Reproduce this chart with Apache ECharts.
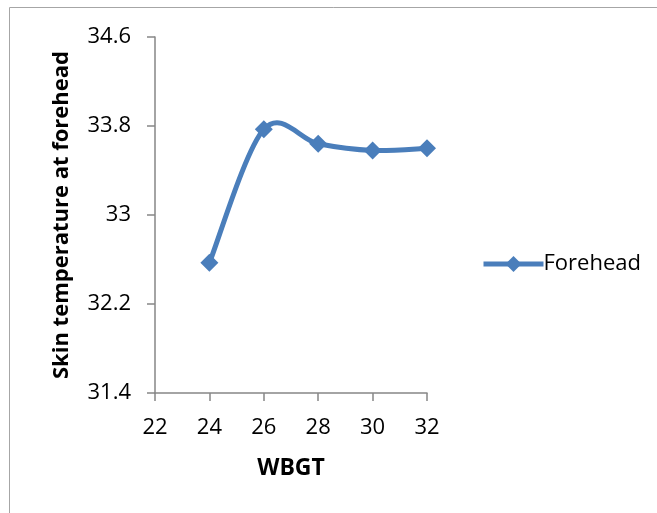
<!DOCTYPE html>
<html>
<head>
<meta charset="utf-8">
<script src="https://cdn.jsdelivr.net/npm/echarts@6/dist/echarts.min.js"></script>
<style>
  html, body { margin: 0; padding: 0; background: #fff; }
  #chart { width: 657px; height: 513px; }
</style>
</head>
<body>
<div id="chart"></div>
<script>
// WBGT levels and mean forehead skin temperature
const wbgt = [24, 26, 28, 30, 32];
const forehead = [32.57, 33.77, 33.64, 33.58, 33.6];
const seriesName = 'Forehead';
const xTitle = 'WBGT';
const yTitle = 'Skin temperature at forehead';

const FONT = '"Open Sans", "Liberation Sans", sans-serif';
const AXIS_GRAY = '#868686';
const BLUE = '#4A7EBB';

const points = wbgt.map((x, i) => [x, forehead[i]]);

// Smoothed connecting curve (Catmull-Rom style cubic Bezier through every point),
// computed in pixel space from the axis scales.
function renderCurve(params, api) {
  if (params.dataIndex !== 0) return null;
  const px = points.map(p => api.coord(p));
  const n = px.length;
  const at = i => px[Math.max(0, Math.min(n - 1, i))];
  let d = 'M' + px[0][0] + ' ' + px[0][1];
  for (let i = 0; i < n - 1; i++) {
    const p0 = at(i - 1), p1 = at(i), p2 = at(i + 1), p3 = at(i + 2);
    const c1 = [p1[0] + (p2[0] - p0[0]) / 6, p1[1] + (p2[1] - p0[1]) / 6];
    const c2 = [p2[0] - (p3[0] - p1[0]) / 6, p2[1] - (p3[1] - p1[1]) / 6];
    d += ' C' + c1.join(' ') + ' ' + c2.join(' ') + ' ' + p2.join(' ');
  }
  return {
    type: 'path',
    shape: { pathData: d },
    style: { fill: 'none', stroke: BLUE, lineWidth: 5, lineCap: 'round', lineJoin: 'round' }
  };
}

const chart = echarts.init(document.getElementById('chart'), null, { renderer: 'canvas' });

chart.setOption({
  backgroundColor: '#ffffff',
  animation: false,
  graphic: [{
    type: 'rect',
    shape: { x: 9.5, y: 7.5, width: 700, height: 600 },
    style: { fill: 'none', stroke: '#A6A6A6', lineWidth: 1 },
    silent: true,
    z: -1
  }],
  grid: { left: 155, right: 230, top: 37, bottom: 120 },
  legend: {
    data: [{
      name: seriesName,
      lineStyle: { color: BLUE, width: 5, opacity: 1, cap: 'butt' },
      itemStyle: { color: BLUE }
    }],
    orient: 'vertical',
    left: 476,
    top: 248,
    itemWidth: 60,
    itemHeight: 20,
    itemGap: 0,
    textStyle: { fontFamily: FONT, fontSize: 22, color: '#000', padding: [0, 0, 0, -5] }
  },
  xAxis: {
    type: 'value',
    min: 22, max: 32, interval: 2,
    name: xTitle,
    nameLocation: 'middle',
    nameGap: 64,
    nameTextStyle: { fontFamily: FONT, fontSize: 23, fontWeight: 'bold', color: '#000' },
    axisLine: { show: true, onZero: false, lineStyle: { color: AXIS_GRAY, width: 1.5 } },
    axisTick: { show: true, inside: false, length: 8, lineStyle: { color: AXIS_GRAY, width: 1.5 } },
    axisLabel: { fontFamily: FONT, fontSize: 22, color: '#000', margin: 24 },
    splitLine: { show: false }
  },
  yAxis: {
    type: 'value',
    min: 31.4, max: 34.6, interval: 0.8,
    name: yTitle,
    nameLocation: 'middle',
    nameGap: 82,
    nameRotate: 90,
    nameTextStyle: { fontFamily: FONT, fontSize: 22, fontWeight: 'bold', color: '#000' },
    axisLine: { show: true, lineStyle: { color: AXIS_GRAY, width: 1.5 } },
    axisTick: { show: true, inside: false, length: 8, lineStyle: { color: AXIS_GRAY, width: 1.5 } },
    axisLabel: {
      fontFamily: FONT, fontSize: 22, color: '#000', margin: 24,
      formatter: v => String(Math.round(v * 10) / 10)
    },
    splitLine: { show: false }
  },
  series: [{
    name: seriesName + '-curve',
    type: 'custom',
    renderItem: renderCurve,
    data: points,
    clip: false,
    silent: true,
    z: 1
  }, {
    name: seriesName,
    type: 'line',
    data: points,
    symbol: 'diamond',
    symbolSize: 18,
    lineStyle: { color: BLUE, width: 0, opacity: 0 },
    itemStyle: { color: BLUE },
    emphasis: { disabled: true },
    z: 3
  }]
});
</script>
</body>
</html>
